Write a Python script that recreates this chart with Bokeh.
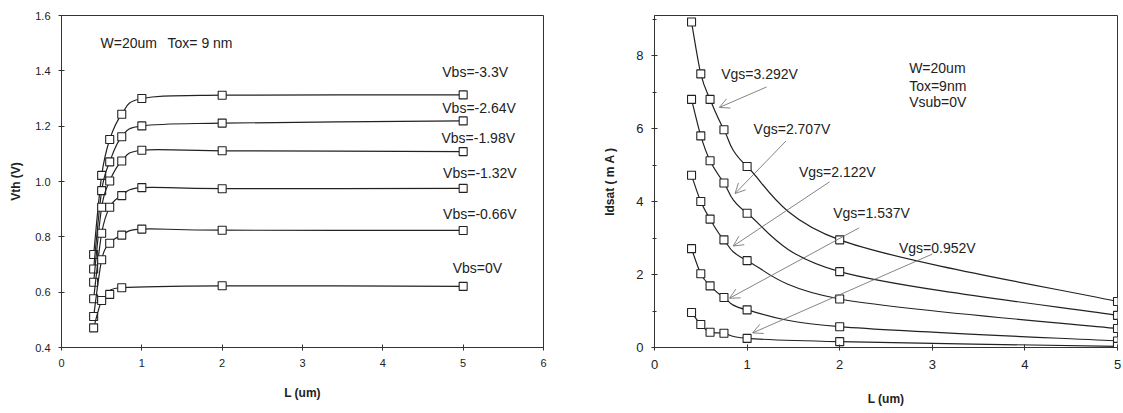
from bokeh.plotting import figure
from bokeh.layouts import row
from bokeh.models import FixedTicker, Label, Arrow, OpenHead, Range1d, PrintfTickFormatter
from bokeh.embed import file_html
from bokeh.resources import INLINE

# ---------------- Vth vs channel length ----------------
L_vth = [0.4, 0.5, 0.6, 0.75, 1.0, 2.0, 5.0]
L_vth_0 = [0.4, 0.5, 0.6, 0.75, 2.0, 5.0]
vth_m330 = [0.736, 1.022, 1.152, 1.243, 1.300, 1.312, 1.313]
vth_m264 = [0.684, 0.967, 1.071, 1.162, 1.201, 1.211, 1.219]
vth_m198 = [0.636, 0.907, 1.002, 1.074, 1.113, 1.111, 1.108]
vth_m132 = [0.576, 0.813, 0.907, 0.949, 0.978, 0.974, 0.975]
vth_m066 = [0.512, 0.717, 0.777, 0.806, 0.828, 0.824, 0.823]
vth_0 = [0.471, 0.570, 0.592, 0.616, 0.623, 0.621]
vbs_labels = ["Vbs=-3.3V", "Vbs=-2.64V", "Vbs=-1.98V", "Vbs=-1.32V", "Vbs=-0.66V", "Vbs=0V"]
vth_x_ticks = [0, 1, 2, 3, 4, 5, 6]
vth_y_ticks = [0.4, 0.6, 0.8, 1.0, 1.2, 1.4, 1.6]

# ---------------- Idsat vs channel length ----------------
L_id = [0.4, 0.5, 0.6, 0.75, 1.0, 2.0, 5.0]
id_3292 = [8.92, 7.50, 6.80, 5.97, 4.96, 2.95, 1.26]
id_2707 = [6.80, 5.80, 5.12, 4.51, 3.68, 2.08, 0.88]
id_2122 = [4.72, 4.00, 3.52, 2.95, 2.38, 1.33, 0.52]
id_1537 = [2.71, 2.02, 1.69, 1.37, 1.03, 0.57, 0.18]
id_0952 = [0.96, 0.63, 0.42, 0.39, 0.25, 0.16, 0.03]
vgs_labels = ["Vgs=3.292V", "Vgs=2.707V", "Vgs=2.122V", "Vgs=1.537V", "Vgs=0.952V"]
id_x_ticks = [0, 1, 2, 3, 4, 5]
id_y_ticks = [0, 2, 4, 6, 8]
id_y_minor = [1, 3, 5, 7, 9]

INK = "#222222"
FONT = "Liberation Sans"


def smooth_segments(xs, ys):
    """Cubic Bezier pieces of a Catmull-Rom style smoothed line through the points."""
    n = len(xs)
    out = {k: [] for k in ("x0", "y0", "x1", "y1", "cx0", "cy0", "cx1", "cy1")}
    for i in range(n - 1):
        xa, ya = xs[max(i - 1, 0)], ys[max(i - 1, 0)]
        xb, yb = xs[i], ys[i]
        xc, yc = xs[i + 1], ys[i + 1]
        xd, yd = xs[min(i + 2, n - 1)], ys[min(i + 2, n - 1)]
        out["x0"].append(xb); out["y0"].append(yb)
        out["x1"].append(xc); out["y1"].append(yc)
        out["cx0"].append(xb + (xc - xa) / 6.0); out["cy0"].append(yb + (yc - ya) / 6.0)
        out["cx1"].append(xc - (xd - xb) / 6.0); out["cy1"].append(yc - (yd - yb) / 6.0)
    return out


def style_frame(p):
    p.toolbar_location = None
    p.xgrid.visible = False
    p.ygrid.visible = False
    p.outline_line_color = "#333333"
    p.outline_line_width = 1
    p.background_fill_color = "white"
    p.border_fill_color = "white"
    for ax in (p.xaxis[0], p.yaxis[0]):
        ax.axis_line_color = "#333333"
        ax.major_tick_line_color = "#333333"
        ax.minor_tick_line_color = "#333333"
        ax.major_tick_in = 3
        ax.major_tick_out = 3
        ax.minor_tick_in = 2
        ax.minor_tick_out = 2
        ax.major_label_text_font = FONT
        ax.major_label_text_color = INK
        ax.axis_label_text_font = FONT
        ax.axis_label_text_font_style = "bold"
        ax.axis_label_text_color = INK
        ax.axis_label_text_font_size = "12px"


def draw_series(p, xs, ys):
    seg = smooth_segments(xs, ys)
    p.bezier(x0=seg["x0"], y0=seg["y0"], x1=seg["x1"], y1=seg["y1"],
             cx0=seg["cx0"], cy0=seg["cy0"], cx1=seg["cx1"], cy1=seg["cy1"],
             line_color=INK, line_width=1.2)
    p.scatter(xs, ys, marker="square", size=8, fill_color="white",
              line_color=INK, line_width=1.1)


def note(p, x, y, text, size="14px"):
    p.add_layout(Label(x=x, y=y, text=text, text_font=FONT, text_font_size=size,
                       text_color=INK, text_baseline="middle", text_align="left"))


# ---------- left panel ----------
left = figure(width=600, height=413, output_backend="svg", toolbar_location=None,
              x_range=Range1d(0, 6), y_range=Range1d(0.4, 1.6),
              min_border_left=61, min_border_right=57, min_border_top=15, min_border_bottom=66)
style_frame(left)
left.xaxis.ticker = FixedTicker(ticks=vth_x_ticks)
left.yaxis.ticker = FixedTicker(ticks=vth_y_ticks)
left.yaxis.formatter = PrintfTickFormatter(format="%.1f")
left.xaxis.major_label_text_font_size = "11px"
left.yaxis.major_label_text_font_size = "11px"
left.xaxis.axis_label = "L (um)"
left.yaxis.axis_label = "Vth (V)"
left.xaxis.major_label_standoff = 8
left.yaxis.major_label_standoff = 8
left.xaxis.axis_label_standoff = 16
left.yaxis.axis_label_standoff = 9

vth_series = [(L_vth, vth_m330), (L_vth, vth_m264), (L_vth, vth_m198),
              (L_vth, vth_m132), (L_vth, vth_m066), (L_vth_0, vth_0)]
for xs, ys in vth_series:
    draw_series(left, xs, ys)

vbs_label_pos = [(4.74, 1.394), (4.74, 1.264), (4.73, 1.159),
                 (4.75, 1.029), (4.75, 0.884), (4.87, 0.689)]
for (lx, ly), txt in zip(vbs_label_pos, vbs_labels):
    note(left, lx, ly, txt)
note(left, 0.486, 1.499, "W=20um")
note(left, 1.32, 1.499, "Tox= 9 nm")

# ---------- right panel ----------
right = figure(width=523, height=413, output_backend="svg", toolbar_location=None,
               x_range=Range1d(0, 5), y_range=Range1d(0, 9.1),
               min_border_left=53, min_border_right=6, min_border_top=13, min_border_bottom=63)
style_frame(right)
right.xaxis.ticker = FixedTicker(ticks=id_x_ticks)
right.yaxis.ticker = FixedTicker(ticks=id_y_ticks, minor_ticks=id_y_minor)
right.xaxis.major_label_text_font_size = "13px"
right.yaxis.major_label_text_font_size = "13px"
right.xaxis.axis_label = "L (um)"
right.yaxis.axis_label = "Idsat ( m A )"
right.xaxis.major_label_standoff = 9
right.yaxis.major_label_standoff = 8
right.xaxis.axis_label_standoff = 20
right.yaxis.axis_label_standoff = 16

for ys in (id_3292, id_2707, id_2122, id_1537, id_0952):
    draw_series(right, L_id, ys)

vgs_label_pos = [(0.72, 7.49), (1.07, 6.0), (1.56, 4.8), (1.93, 3.69), (2.64, 2.74)]
vgs_arrows = [((1.21, 7.14), (0.70, 6.58)),
              ((1.42, 5.66), (0.87, 4.22)),
              ((1.89, 4.54), (0.85, 2.78)),
              ((2.21, 3.28), (0.81, 1.35)),
              ((3.00, 2.56), (1.06, 0.40))]
for (lx, ly), txt in zip(vgs_label_pos, vgs_labels):
    note(right, lx, ly, txt)
for (tx, ty), (hx, hy) in vgs_arrows:
    right.add_layout(Arrow(x_start=tx, y_start=ty, x_end=hx, y_end=hy,
                           line_color="#666666", line_width=0.8,
                           end=OpenHead(size=10, line_color="#666666", line_width=0.8)))
note(right, 2.75, 7.66, "W=20um")
note(right, 2.75, 7.16, "Tox=9nm")
note(right, 2.75, 6.74, "Vsub=0V")

layout = row(left, right)
open("out.html", "w").write(file_html(layout, INLINE))
